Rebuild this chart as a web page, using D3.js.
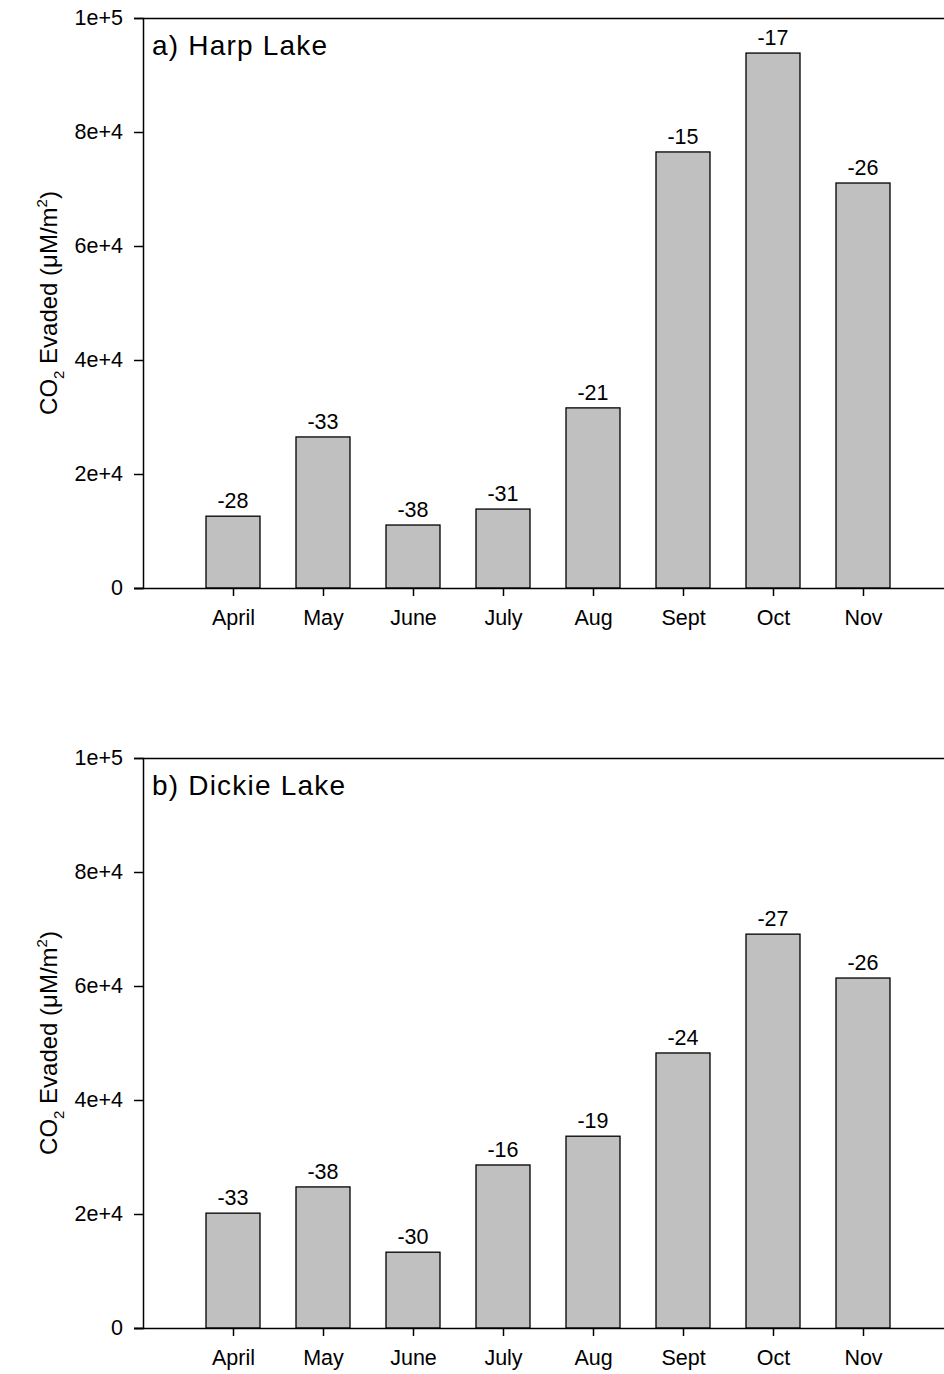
<!DOCTYPE html>
<html>
<head>
<meta charset="utf-8">
<script src="https://cdn.jsdelivr.net/npm/d3@7"></script>
<style>
  body { margin: 0; background: #fff; }
  svg { display: block; font-family: Arial, "Liberation Sans", sans-serif; }
</style>
</head>
<body>
<div id="chart"></div>
<script>
const months = ["April", "May", "June", "July", "Aug", "Sept", "Oct", "Nov"];
const yTicks = [0, 20000, 40000, 60000, 80000, 100000];
const yTickLabels = ["0", "2e+4", "4e+4", "6e+4", "8e+4", "1e+5"];

const harpValues = [12600, 26500, 11050, 13850, 31600, 76500, 93850, 71050];
const harpLabels = ["-28", "-33", "-38", "-31", "-21", "-15", "-17", "-26"];

const dickieValues = [20150, 24750, 13300, 28600, 33650, 48250, 69100, 61400];
const dickieLabels = ["-33", "-38", "-30", "-16", "-19", "-24", "-27", "-26"];

const panels = [
  { title: "a) Harp Lake", values: harpValues, labels: harpLabels, top: 18 },
  { title: "b) Dickie Lake", values: dickieValues, labels: dickieLabels, top: 758 }
];

const width = 944, height = 1374;
const left = 143, right = 953, plotH = 570;
const fontSize = 21.5;

const svg = d3.select("#chart").append("svg")
  .attr("width", width)
  .attr("height", height);

const x = d3.scalePoint()
  .domain(months)
  .range([left, right])
  .padding(1);

const barW = 54;

panels.forEach(p => {
  const g = svg.append("g");
  const y = d3.scaleLinear()
    .domain([0, 100000])
    .range([p.top + plotH, p.top]);

  // bars
  g.selectAll("rect.bar")
    .data(p.values)
    .enter()
    .append("rect")
    .attr("class", "bar")
    .attr("x", (d, i) => x(months[i]) - barW / 2)
    .attr("y", d => y(d))
    .attr("width", barW)
    .attr("height", d => y(0) - y(d))
    .attr("fill", "#c0c0c0")
    .attr("stroke", "#000")
    .attr("stroke-width", 1.3);

  // value labels
  g.selectAll("text.val")
    .data(p.values)
    .enter()
    .append("text")
    .attr("class", "val")
    .attr("x", (d, i) => x(months[i]))
    .attr("y", d => y(d) - 8)
    .attr("text-anchor", "middle")
    .attr("font-size", fontSize)
    .text((d, i) => p.labels[i]);

  // top frame line
  g.append("line")
    .attr("x1", left).attr("x2", right)
    .attr("y1", p.top + 0.5).attr("y2", p.top + 0.5)
    .attr("stroke", "#000").attr("stroke-width", 1.5);

  // y axis
  const yAxis = g.append("g")
    .attr("transform", `translate(${left},0)`)
    .call(d3.axisLeft(y)
      .tickValues(yTicks)
      .tickFormat((d, i) => yTickLabels[i])
      .tickSize(9)
      .tickPadding(11));
  yAxis.select(".domain").attr("stroke-width", 1.5);
  yAxis.selectAll(".tick line").attr("stroke-width", 1.5);
  yAxis.selectAll("text")
    .attr("font-size", fontSize)
    .attr("font-family", "Arial, 'Liberation Sans', sans-serif")
    .attr("fill", "#000");

  // x axis
  const xAxis = g.append("g")
    .attr("transform", `translate(0,${p.top + plotH})`)
    .call(d3.axisBottom(x).tickSize(8).tickPadding(14).tickSizeOuter(0));
  xAxis.select(".domain")
    .attr("d", `M${left - 9},0.5H${right}`)
    .attr("stroke-width", 1.5);
  xAxis.selectAll(".tick line").attr("stroke-width", 1.5);
  xAxis.selectAll("text")
    .attr("font-size", fontSize)
    .attr("font-family", "Arial, 'Liberation Sans', sans-serif")
    .attr("fill", "#000");

  // panel title
  g.append("text")
    .attr("x", left + 9)
    .attr("y", p.top + 37)
    .attr("font-size", 28)
    .attr("letter-spacing", 1.2)
    .text(p.title);

  // y axis title
  const yt = g.append("text")
    .attr("transform", `translate(57,${p.top + plotH / 2}) rotate(-90)`)
    .attr("text-anchor", "middle")
    .attr("font-size", 24);
  yt.append("tspan").text("CO");
  yt.append("tspan").attr("font-size", 15).attr("dy", 7).text("2");
  yt.append("tspan").attr("dy", -7).text(" Evaded (\u03BCM/m");
  yt.append("tspan").attr("font-size", 15).attr("dy", -10).text("2");
  yt.append("tspan").attr("dy", 10).text(")");
});
</script>
</body>
</html>
